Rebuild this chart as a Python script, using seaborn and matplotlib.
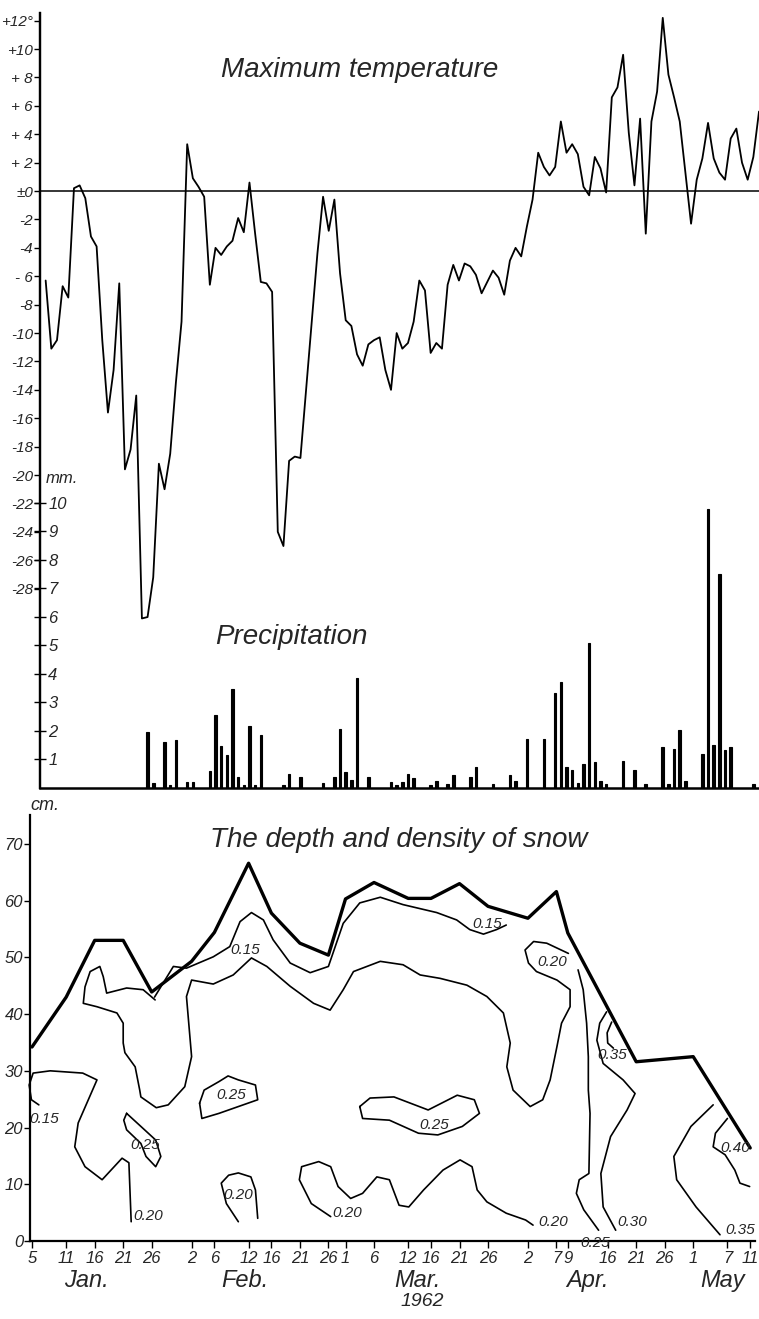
import matplotlib
matplotlib.use("Agg")
import matplotlib.pyplot as plt
import seaborn as sns

# days are counted from Jan 1 1962 (Jan 5 = 5, May 11 = 131)
temp_days = list(range(5, 132))
temp_max = [-6.3, -11.1, -10.5, -6.7, -7.5, 0.2, 0.4, -0.5, -3.2, -3.9,
            -10.5, -15.6, -12.6, -6.5, -19.6, -18.2, -14.4, -30.1, -30.0, -27.2,
            -19.2, -21.0, -18.5, -13.5, -9.2, 3.3, 0.9, 0.3, -0.4, -6.6,
            -4.0, -4.5, -3.9, -3.5, -1.9, -2.9, 0.6, -3.0, -6.4, -6.5,
            -7.1, -24.0, -25.0, -19.0, -18.7, -18.8, -14.0, -9.2, -4.4, -0.4,
            -2.8, -0.6, -5.8, -9.1, -9.5, -11.5, -12.3, -10.8, -10.5, -10.3,
            -12.6, -14.0, -10.0, -11.1, -10.7, -9.2, -6.3, -7.0, -11.4, -10.7,
            -11.1, -6.6, -5.2, -6.3, -5.1, -5.3, -5.9, -7.2, -6.4, -5.6,
            -6.1, -7.3, -4.9, -4.0, -4.6, -2.5, -0.6, 2.7, 1.7, 1.1,
            1.7, 4.9, 2.7, 3.3, 2.6, 0.3, -0.3, 2.4, 1.6, -0.1,
            6.6, 7.3, 9.6, 4.1, 0.4, 5.1, -3.0, 4.9, 7.0, 12.2,
            8.2, 6.6, 4.9, 1.3, -2.3, 0.8, 2.3, 4.8, 2.3, 1.3,
            0.8, 3.7, 4.4, 2.0, 0.8, 2.4, 5.6]

precip_days = [23, 24, 26, 27, 28, 30, 31, 34, 35, 36, 37, 38, 39, 40, 41, 42, 43,
               47, 48, 50, 54, 56, 57, 58, 59, 60, 62, 66, 67, 68, 69, 70, 73, 74,
               76, 77, 80, 81, 84, 87, 88, 90, 93, 95, 96, 97, 98, 99, 100, 101,
               102, 103, 104, 107, 109, 111, 114, 115, 116, 117, 118, 121, 122,
               123, 124, 125, 126, 130]
precip_mm = [1.96, 0.19, 1.60, 0.10, 1.70, 0.21, 0.21, 0.58, 2.55, 1.46, 1.17, 3.47,
             0.40, 0.10, 2.18, 0.11, 1.87, 0.10, 0.50, 0.39, 0.19, 0.37, 2.07, 0.57,
             0.28, 3.86, 0.39, 0.22, 0.10, 0.20, 0.49, 0.36, 0.12, 0.23, 0.15, 0.44,
             0.37, 0.73, 0.13, 0.46, 0.25, 1.72, 1.72, 3.32, 3.72, 0.74, 0.63, 0.16,
             0.84, 5.09, 0.92, 0.23, 0.15, 0.95, 0.63, 0.15, 1.44, 0.15, 1.36, 2.04,
             0.25, 1.19, 9.8, 1.52, 7.5, 1.33, 1.45, 0.15]

snow_days = [5, 11, 16, 21, 26, 33, 37, 43, 47, 52, 57, 60, 65, 71, 75, 80, 85,
             92, 97, 99, 111, 121, 131]
snow_depth = [34.2, 43.0, 53.0, 53.0, 43.9, 49.3, 54.4, 66.6, 57.8, 52.5, 50.4,
              60.3, 63.2, 60.4, 60.4, 63.0, 59.0, 56.9, 61.6, 54.3, 31.6, 32.5, 16.4]

# density isolines (day, depth in cm)
iso_top_days = [26.5, 29.8, 32.1, 36.8, 39.7, 41.5, 43.5, 45.6, 47.3, 50.3, 53.8,
                57.0, 59.6, 62.5, 66.1, 70.1, 76.0, 79.5, 81.8, 84.2, 86.5, 88.2]
iso_top_cm = [43.0, 48.4, 48.1, 50.1, 51.9, 56.3, 57.9, 56.6, 53.1, 49.0, 47.3,
              48.4, 56.0, 59.6, 60.6, 59.3, 57.9, 56.6, 54.9, 54.1, 54.9, 55.7]

iso_mid_days = [26.6, 24.5, 21.6, 18.1, 17.5, 16.9, 15.2, 14.3, 14.0, 16.4, 19.9,
                21.0, 21.0, 21.3, 23.1, 23.9, 24.1, 26.8, 28.9, 31.8, 33.0, 32.1,
                33.0, 36.8, 40.3, 43.5, 46.2, 50.3, 54.4, 57.3, 59.6, 61.4, 66.1,
                70.1, 73.1, 76.6, 81.3, 84.8, 87.7, 88.9, 88.3, 89.4, 92.4, 94.6,
                95.9, 97.1, 97.9, 99.4, 99.4, 97.1, 93.5, 92.1, 91.5, 93.0, 95.3, 99.1]
iso_mid_cm = [42.5, 44.3, 44.6, 43.7, 46.6, 48.4, 47.5, 44.8, 41.9, 41.3, 40.2,
              38.4, 34.9, 33.2, 30.7, 26.6, 25.4, 23.5, 24.0, 27.2, 32.5, 43.1,
              46.0, 45.3, 46.9, 49.9, 48.4, 44.9, 41.9, 40.7, 44.3, 47.5, 49.3,
              48.7, 46.9, 46.3, 45.1, 43.1, 40.2, 34.9, 30.7, 26.6, 23.7, 24.9,
              28.4, 34.3, 38.4, 41.3, 44.3, 46.0, 47.5, 49.0, 51.3, 52.8, 52.5, 50.7]

iso_left_days = [6.2, 4.9, 4.5, 5.2, 8.2, 13.9, 16.4, 13.1, 12.5, 14.3, 17.3, 20.8, 22.0, 22.4]
iso_left_cm = [24.0, 24.9, 27.5, 29.6, 30.0, 29.6, 28.4, 20.8, 16.6, 13.1, 10.8, 14.6, 13.8, 3.4]

iso_jan25_days = [21.6, 24.1, 26.7, 27.6, 26.7, 25.0, 24.1, 21.6, 21.1, 21.6]
iso_jan25_cm = [22.5, 20.2, 17.8, 14.9, 13.1, 14.9, 17.2, 19.6, 21.3, 22.5]

iso_feb25_days = [34.4, 35.2, 37.8, 39.4, 41.2, 44.2, 44.6, 41.2, 37.8, 34.8, 34.4]
iso_feb25_cm = [24.3, 26.6, 28.1, 29.1, 28.4, 27.5, 24.9, 23.7, 22.5, 21.6, 24.3]

iso_mar25_days = [62.5, 64.3, 68.5, 74.5, 79.6, 82.6, 83.5, 80.5, 76.2, 72.8, 67.7, 63.0, 62.5]
iso_mar25_cm = [23.7, 25.2, 25.4, 23.1, 25.7, 24.9, 22.5, 20.2, 18.7, 19.0, 21.3, 21.6, 23.7]

iso_feb20_days = [41.2, 39.1, 38.2, 39.5, 41.2, 43.4, 44.2, 44.6]
iso_feb20_cm = [3.4, 6.6, 10.2, 11.6, 12.0, 11.3, 9.0, 4.0]

iso_wave_days = [57.4, 54.0, 51.9, 52.3, 55.3, 57.4, 58.7, 60.9, 63.0, 65.5, 67.7,
                 69.4, 71.1, 73.7, 77.1, 80.1, 82.2, 83.1, 84.8, 88.2, 91.6, 92.9]
iso_wave_cm = [4.3, 6.6, 10.8, 13.1, 14.0, 13.1, 9.6, 7.5, 8.4, 11.3, 10.8,
               6.3, 6.0, 9.0, 12.5, 14.3, 13.1, 9.0, 6.9, 4.9, 3.7, 2.8]

iso_apr25_days = [100.8, 101.7, 102.3, 102.6, 102.6, 102.9, 102.7, 101.0, 100.5, 101.8, 104.4]
iso_apr25_cm = [47.8, 44.3, 38.4, 32.5, 26.6, 22.5, 11.9, 10.8, 8.4, 5.5, 1.9]

iso_apr30_days = [105.8, 104.6, 104.1, 105.2, 108.7, 110.8, 109.4, 106.5, 104.8, 105.2, 107.4]
iso_apr30_cm = [40.4, 38.4, 35.4, 31.3, 28.4, 26.0, 23.1, 18.4, 11.9, 6.0, 1.9]

iso_apr35_days = [106.7, 105.9, 106.0, 107.0]
iso_apr35_cm = [38.6, 36.7, 34.9, 34.0]

iso_may35_days = [124.5, 120.6, 117.6, 118.1, 121.5, 125.7]
iso_may35_cm = [24.0, 20.2, 14.9, 10.8, 6.0, 1.1]

iso_may40_days = [127.0, 124.9, 124.5, 126.6, 128.3, 129.2, 130.9]
iso_may40_cm = [21.6, 19.0, 16.6, 15.2, 12.5, 10.2, 9.6]

iso_label_text = ["0.15", "0.20", "0.15", "0.15", "0.20", "0.25", "0.25", "0.25",
                  "0.20", "0.20", "0.20", "0.25", "0.30", "0.35", "0.35", "0.40"]
iso_label_day = [7.1, 25.4, 42.4, 84.8, 96.2, 24.8, 39.9, 75.5,
                 41.1, 60.3, 96.4, 103.8, 110.3, 106.8, 129.2, 128.3]
iso_label_cm = [21.5, 4.4, 51.3, 55.9, 49.2, 16.9, 25.7, 20.5,
                8.1, 4.9, 3.4, -0.4, 3.4, 32.8, 1.9, 16.4]

temp_ticks = list(range(-28, 13, 2))
temp_tick_labels = ["-28", "-26", "-24", "-22", "-20", "-18", "-16", "-14", "-12",
                    "-10", "-8", "- 6", "-4", "-2", "±0", "+ 2", "+ 4", "+ 6",
                    "+ 8", "+10", "+12°"]
precip_ticks = list(range(1, 11))

date_ticks = [5, 11, 16, 21, 26, 33, 37, 43, 47, 52, 57, 60, 65, 71, 75, 80, 85,
              92, 97, 99, 106, 111, 116, 121, 127, 131]
date_labels = ["5", "11", "16", "21", "26", "2", "6", "12", "16", "21", "26", "1",
               "6", "12", "16", "21", "26", "2", "7", "9", "16", "21", "26", "1",
               "7", "11"]
month_names = ["Jan.", "Feb.", "Mar.", "Apr.", "May"]
month_pos = [14.5, 42.4, 72.7, 102.5, 126.1]

sns.set_theme(style="white")
plt.rcParams["font.family"] = ["Liberation Sans", "DejaVu Sans"]
plt.rcParams["font.style"] = "italic"

fig = plt.figure(figsize=(7.59, 13.19), dpi=100)

# --- temperature and precipitation share one frame
ax = fig.add_axes([40 / 759, 1 - 788 / 1319, 719 / 759, 775 / 1319])
ax.set_xlim(4.0, 131.0)
ax.set_ylim(-42.04, 12.54)
sns.lineplot(x=temp_days, y=temp_max, ax=ax, color="black", linewidth=1.3)
ax.axhline(0, color="black", linewidth=1.1)
for s in ["top", "right"]:
    ax.spines[s].set_visible(False)
ax.spines["left"].set_linewidth(1.6)
ax.spines["bottom"].set_linewidth(1.8)
for s in ["left", "bottom"]:
    ax.spines[s].set_color("black")
ax.set_xticks([])
ax.set_yticks(temp_ticks, temp_tick_labels)
ax.tick_params(axis="y", direction="out", length=4, width=1, labelsize=11, pad=1,
               color="black", left=True)
ax.set_xlabel("")
ax.set_ylabel("")
ax.text(0.445, 0.926, "Maximum temperature", transform=ax.transAxes, fontsize=20,
        ha="center", va="center")

ax2 = ax.twinx()
ax2.set_ylim(0, 27.19)
ax2.bar(precip_days, precip_mm, width=0.45, color="black", edgecolor="black",
        linewidth=0.8)
for s in ["top", "left", "bottom"]:
    ax2.spines[s].set_visible(False)
ax2.spines["right"].set_position(("axes", 0))
ax2.spines["right"].set_linewidth(1.6)
ax2.spines["right"].set_color("black")
ax2.set_yticks(precip_ticks, [str(v) for v in precip_ticks])
ax2.tick_params(axis="y", direction="inout", length=8, width=1, labelsize=12, pad=2,
                color="black", right=True)
ax2.text(0.008, 10.6, "mm.", transform=ax2.get_yaxis_transform(), fontsize=12,
         ha="left", va="bottom")
ax2.text(0.35, 0.195, "Precipitation", transform=ax2.transAxes, fontsize=20,
         ha="center", va="center")

# --- snow depth and density
ax3 = fig.add_axes([30 / 759, 1 - 1241 / 1319, 725 / 759, 426 / 1319])
ax3.set_xlim(4.65, 131.84)
ax3.set_ylim(0, 75.1)
sns.lineplot(x=snow_days, y=snow_depth, ax=ax3, color="black", linewidth=2.4)

isolines = [(iso_top_days, iso_top_cm), (iso_mid_days, iso_mid_cm),
            (iso_left_days, iso_left_cm), (iso_jan25_days, iso_jan25_cm),
            (iso_feb25_days, iso_feb25_cm), (iso_mar25_days, iso_mar25_cm),
            (iso_feb20_days, iso_feb20_cm), (iso_wave_days, iso_wave_cm),
            (iso_apr25_days, iso_apr25_cm), (iso_apr30_days, iso_apr30_cm),
            (iso_apr35_days, iso_apr35_cm), (iso_may35_days, iso_may35_cm),
            (iso_may40_days, iso_may40_cm)]
for d, h in isolines:
    ax3.plot(d, h, color="black", linewidth=1.2, clip_on=False)
for t, d, h in zip(iso_label_text, iso_label_day, iso_label_cm):
    ax3.text(d, h, t, fontsize=11, ha="center", va="center", clip_on=False)

for s in ["top", "right"]:
    ax3.spines[s].set_visible(False)
for s in ["left", "bottom"]:
    ax3.spines[s].set_linewidth(1.6)
    ax3.spines[s].set_color("black")
ax3.set_xticks(date_ticks, date_labels)
ax3.set_yticks(range(0, 71, 10))
ax3.tick_params(axis="x", direction="out", length=5, width=1, labelsize=12, pad=2,
                color="black", bottom=True)
ax3.tick_params(axis="y", direction="out", length=4, width=1, labelsize=12, pad=1,
                color="black", left=True)
ax3.set_xlabel("")
ax3.set_ylabel("")
ax3.text(0.0, 1.023, "cm.", transform=ax3.transAxes, fontsize=13, ha="left", va="center")
ax3.text(0.508, 0.941, "The depth and density of snow", transform=ax3.transAxes,
         fontsize=20, ha="center", va="center")
for name, pos in zip(month_names, month_pos):
    ax3.text(pos, -0.092, name, transform=ax3.get_xaxis_transform(), fontsize=17,
             ha="center", va="center")
ax3.text(73.4, -0.143, "1962", transform=ax3.get_xaxis_transform(), fontsize=14,
         ha="center", va="center")

fig.savefig("out.png", dpi=100)
